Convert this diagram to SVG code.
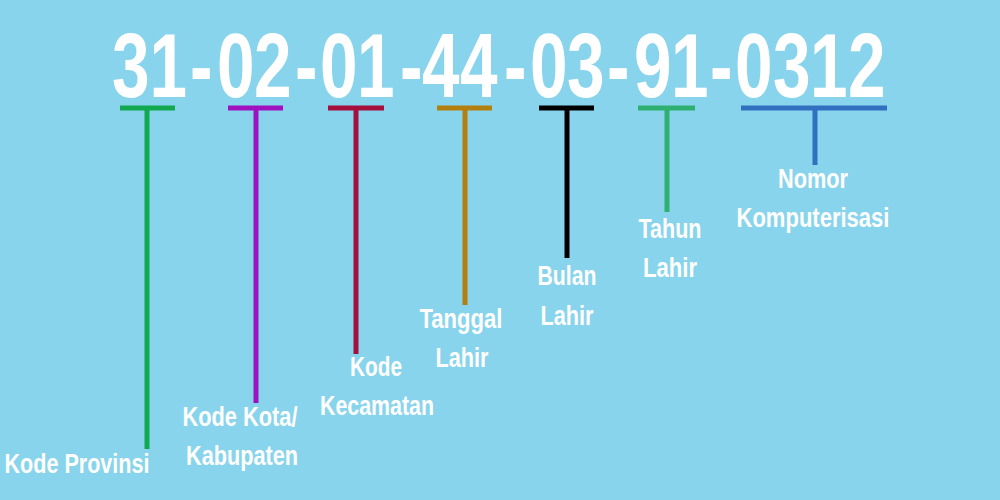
<svg xmlns="http://www.w3.org/2000/svg" width="1000" height="500" viewBox="0 0 1000 500">
<style>
.num{font-family:"Liberation Sans",Arial,sans-serif;font-weight:bold;font-size:90px;fill:#fff}
.lbl{font-family:"Liberation Sans",Arial,sans-serif;font-weight:bold;font-size:27px;fill:#fff;text-anchor:middle}
.c line{stroke-width:5;stroke-linecap:butt}
</style>
<rect width="1000" height="500" fill="#88d4ec"/>
<g id="nik"><text class="num" transform="scale(0.75,1)" y="97" x="149.3 199.3 253.3 289.3 338.7 393.3 426.7 476 533.3 562.7 613.3 672 706.7 756 809.3 845.3 894.7 946.7 980 1030.7 1080 1130.7">31-02-01-44-03-91-0312</text></g>
<g id="connectors" class="c">
<g stroke="#12a84f"><line x1="120" y1="108" x2="175" y2="108"/><line x1="147" y1="108" x2="147" y2="449"/></g>
<g stroke="#a012c0"><line x1="228" y1="108" x2="283" y2="108"/><line x1="256" y1="108" x2="256" y2="403"/></g>
<g stroke="#a50f3c"><line x1="328" y1="108" x2="384" y2="108"/><line x1="356" y1="108" x2="356" y2="354"/></g>
<g stroke="#b3800f"><line x1="437" y1="108" x2="492" y2="108"/><line x1="465" y1="108" x2="465" y2="305"/></g>
<g stroke="#000"><line x1="539" y1="108" x2="594" y2="108"/><line x1="567" y1="108" x2="567" y2="258"/></g>
<g stroke="#2db070"><line x1="638" y1="108" x2="695" y2="108"/><line x1="667" y1="108" x2="667" y2="212"/></g>
<g stroke="#3070bf"><line x1="741" y1="108" x2="887" y2="108"/><line x1="815" y1="108" x2="815" y2="165"/></g>
</g>
<g id="provinsi"><text class="lbl" x="77" y="473" textLength="145" lengthAdjust="spacingAndGlyphs">Kode Provinsi</text></g>
<g id="kota"><text class="lbl" x="240" y="426" textLength="115" lengthAdjust="spacingAndGlyphs">Kode Kota/</text><text class="lbl" x="242" y="465" textLength="112" lengthAdjust="spacingAndGlyphs">Kabupaten</text></g>
<g id="kecamatan"><text class="lbl" x="376" y="376" textLength="52" lengthAdjust="spacingAndGlyphs">Kode</text><text class="lbl" x="377" y="415" textLength="114" lengthAdjust="spacingAndGlyphs">Kecamatan</text></g>
<g id="tanggal"><text class="lbl" x="461" y="328" textLength="83" lengthAdjust="spacingAndGlyphs">Tanggal</text><text class="lbl" x="462" y="367" textLength="53" lengthAdjust="spacingAndGlyphs">Lahir</text></g>
<g id="bulan"><text class="lbl" x="567" y="285" textLength="59" lengthAdjust="spacingAndGlyphs">Bulan</text><text class="lbl" x="567" y="325" textLength="53" lengthAdjust="spacingAndGlyphs">Lahir</text></g>
<g id="tahun"><text class="lbl" x="670" y="238" textLength="63" lengthAdjust="spacingAndGlyphs">Tahun</text><text class="lbl" x="670" y="277" textLength="54" lengthAdjust="spacingAndGlyphs">Lahir</text></g>
<g id="nomor"><text class="lbl" x="813" y="188" textLength="70" lengthAdjust="spacingAndGlyphs">Nomor</text><text class="lbl" x="813" y="227" textLength="153" lengthAdjust="spacingAndGlyphs">Komputerisasi</text></g>
</svg>
